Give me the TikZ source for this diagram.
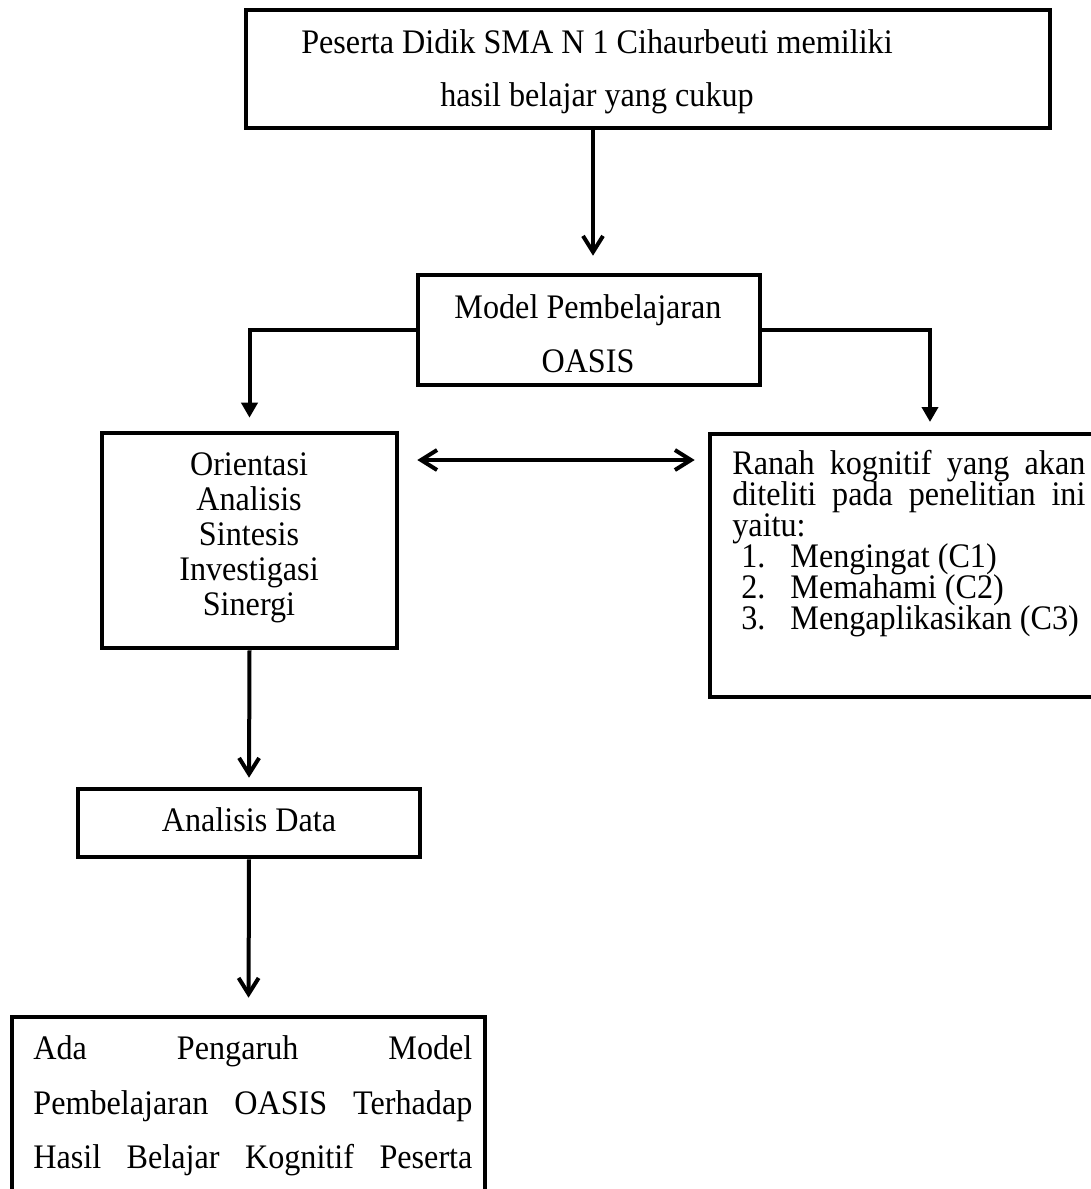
\documentclass[tikz,border=0pt]{standalone}
\usepackage{fontspec}
\setmainfont{Liberation Serif}[FakeStretch=0.935]
\usetikzlibrary{arrows.meta}
\begin{document}
\begin{tikzpicture}[x=0.5pt,y=-0.5pt,
  box/.style={draw,line width=2.3pt,rectangle,inner sep=0pt},
  txt/.style={inner sep=0pt,anchor=base,font=\fontsize{17.2}{19}\selectfont},
  ltxt/.style={txt,anchor=base west},
  conn/.style={line width=2pt},
  vhead/.style={conn,-{Straight Barb[length=8pt,width=10pt]}},
  vboth/.style={conn,{Straight Barb[length=8pt,width=10pt]}-{Straight Barb[length=8pt,width=10pt]}},
  fhead/.style={conn,-{Triangle[length=7.5pt,width=8pt]}}]
\useasboundingbox (0,0) rectangle (1091,1189);
\clip (0,0) rectangle (1091,1189);
% boxes
\node[box,minimum width=402pt,minimum height=59pt] (top) at (648,69) {};
\node[box,minimum width=171pt,minimum height=55pt] (mdl) at (589,330) {};
\node[box,minimum width=147.5pt,minimum height=107.5pt] (ori) at (249.5,540.5) {};
\node[box,minimum width=192.5pt,minimum height=131.5pt] (ran) at (902.5,565.5) {};
\node[box,minimum width=171pt,minimum height=34pt] (ana) at (249,823) {};
\node[box,minimum width=236.5pt,minimum height=111.5pt] (res) at (248.5,1128.5) {};
% texts
\node[txt] (t1) at (597,53) {Peserta Didik SMA N 1 Cihaurbeuti memiliki};
\node[txt] (t2) at (597,106) {hasil belajar yang cukup};
\node[txt] (m1) at (588,318) {Model Pembelajaran};
\node[txt] (m2) at (588,372) {OASIS};
\node[txt] (o1) at (249,475) {Orientasi};
\node[txt] (o2) at (249,510) {Analisis};
\node[txt] (o3) at (249,545) {Sintesis};
\node[txt] (o4) at (249,580) {Investigasi};
\node[txt] (o5) at (249,615) {Sinergi};
\node[ltxt] (r1) at (732,474) {\makebox[176.5pt][s]{Ranah kognitif yang akan}};
\node[ltxt] (r2) at (732,505) {\makebox[176.5pt][s]{diteliti pada penelitian ini}};
\node[ltxt] (r3) at (732,536) {yaitu:};
\node[ltxt] (n1) at (741,567) {1.};
\node[ltxt] (i1) at (790,567) {Mengingat (C1)};
\node[ltxt] (n2) at (741,598) {2.};
\node[ltxt] (i2) at (790,598) {Memahami (C2)};
\node[ltxt] (n3) at (741,629) {3.};
\node[ltxt] (i3) at (790,629) {Mengaplikasikan (C3)};
\node[txt] (a1) at (249,831) {Analisis Data};
\node[ltxt] (b1) at (33,1059) {\makebox[219.5pt][s]{Ada Pengaruh Model}};
\node[ltxt] (b2) at (33,1114) {\makebox[219.5pt][s]{Pembelajaran OASIS Terhadap}};
\node[ltxt] (b3) at (33,1168) {\makebox[219.5pt][s]{Hasil Belajar Kognitif Peserta}};
% connectors
\coordinate (rtip) at (930,422);
\draw[vhead,shorten >=8.5pt] ([xshift=2pt]top.south -| mdl.north) -- ([xshift=2pt]mdl.north);
\draw[fhead,shorten >=6.5pt] (mdl.west) -| (ori.north);
\draw[fhead] (mdl.east) -| (rtip);
\draw[vboth,shorten <=9pt,shorten >=6.5pt] (ori.east |- 0,460) -- (ran.west |- 0,460);
\draw[vhead,shorten >=4.5pt] (ori.south) -- (ana.north);
\draw[vhead,shorten >=8.5pt] (ana.south) -- (res.north);
\end{tikzpicture}
\end{document}
